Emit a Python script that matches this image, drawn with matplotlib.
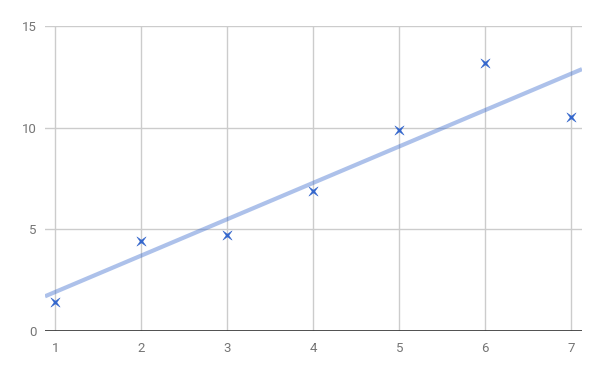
import numpy as np
import matplotlib
matplotlib.use("Agg")
import matplotlib.pyplot as plt
from matplotlib.path import Path

# data
x_vals = [1, 2, 3, 4, 5, 6, 7]
y_vals = [1.4, 4.4, 4.7, 6.9, 9.9, 13.2, 10.5]
x_ticks = [1, 2, 3, 4, 5, 6, 7]
y_ticks = [0, 5, 10, 15]

plt.rcParams['font.family'] = ['Roboto', 'DejaVu Sans']

# four pointed star turned 45 degrees, like the google charts marker
star = Path([(1, 1), (0, 0.3), (-1, 1), (-0.3, 0), (-1, -1), (0, -0.3),
             (1, -1), (0.3, 0), (1, 1)], closed=True)

fig = plt.figure(figsize=(6, 3.71), dpi=100)
ax = fig.add_axes([0.075, 0.108, 0.895, 0.822])

xlim = (0.88, 7.125)
ax.set_xlim(*xlim)
ax.set_ylim(0, 15)

# linear trendline
slope, intercept = np.polyfit(x_vals, y_vals, 1)
tx = np.array(xlim)
ax.plot(tx, slope * tx + intercept, color='#3366cc', alpha=0.4, lw=3,
        solid_capstyle='butt', zorder=3)

ax.scatter(x_vals, y_vals, marker=star, s=45, color='#3366cc', linewidths=0.3, zorder=4)

ax.set_xticks(x_ticks)
ax.set_yticks(y_ticks)
ax.grid(True, color='#cccccc', lw=1)
ax.set_axisbelow(True)
ax.axhline(0, color='#333333', lw=1.2, zorder=2)
for s in ax.spines.values():
    s.set_visible(False)
ax.tick_params(length=0, labelsize=9.5, labelcolor='#757575')
ax.tick_params(axis='x', pad=8)
ax.tick_params(axis='y', pad=6)

fig.savefig('out.png', dpi=100)
